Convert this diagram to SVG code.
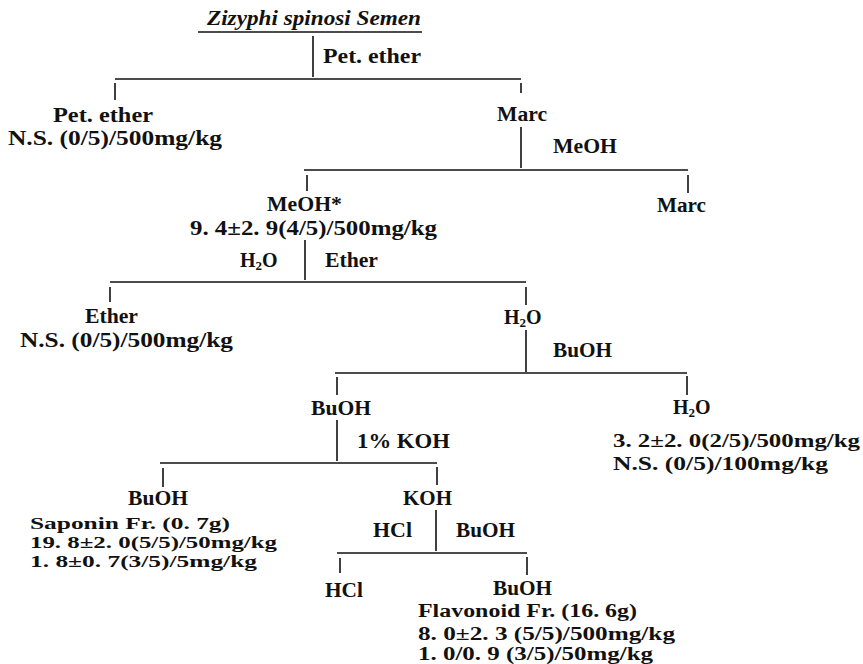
<svg xmlns="http://www.w3.org/2000/svg" width="863" height="664" viewBox="0 0 863 664">
<style>
text{font-family:"Liberation Serif","Times New Roman",serif;font-weight:bold;font-size:20px;fill:#111}
.it{font-style:italic}
.sub{font-size:13px}
.d19{font-size:19px}
.d18{font-size:18px}
.d17{font-size:17px}
line{stroke:#111;stroke-width:1.6}
</style>
<rect width="863" height="664" fill="#fff"/>
<g id="connectors">
<line x1="198" y1="32" x2="422" y2="32"/>
<line x1="313" y1="36" x2="313" y2="77"/>
<line x1="115" y1="79" x2="521" y2="79"/>
<line x1="115" y1="83" x2="115" y2="100"/>
<line x1="521" y1="83" x2="521" y2="93"/>
<line x1="521" y1="127" x2="521" y2="168"/>
<line x1="304" y1="170" x2="688" y2="170"/>
<line x1="307" y1="175" x2="307" y2="191"/>
<line x1="688" y1="175" x2="688" y2="193"/>
<line x1="305" y1="240" x2="305" y2="280"/>
<line x1="110" y1="282" x2="526" y2="282"/>
<line x1="110" y1="287" x2="110" y2="302"/>
<line x1="526" y1="287" x2="526" y2="305"/>
<line x1="526" y1="330" x2="526" y2="372"/>
<line x1="335" y1="373" x2="687" y2="373"/>
<line x1="337" y1="377" x2="337" y2="395"/>
<line x1="687" y1="376" x2="687" y2="395"/>
<line x1="337" y1="420" x2="337" y2="461"/>
<line x1="160" y1="463" x2="437" y2="463"/>
<line x1="163" y1="468" x2="163" y2="487"/>
<line x1="437" y1="467" x2="437" y2="485"/>
<line x1="436" y1="510" x2="436" y2="551"/>
<line x1="337" y1="553" x2="527" y2="553"/>
<line x1="340" y1="558" x2="340" y2="573"/>
<line x1="527" y1="557" x2="527" y2="575"/>
</g>
<g id="labels">
<text x="323" y="63" textLength="98" lengthAdjust="spacingAndGlyphs">Pet. ether</text>
<text x="553" y="153" textLength="64" lengthAdjust="spacingAndGlyphs">MeOH</text>
<text x="240" y="267">H<tspan class="sub" dy="3">2</tspan><tspan dy="-3">O</tspan></text>
<text x="325" y="267" textLength="53" lengthAdjust="spacingAndGlyphs">Ether</text>
<text x="553" y="357" textLength="59" lengthAdjust="spacingAndGlyphs">BuOH</text>
<text x="357" y="448" textLength="93" lengthAdjust="spacingAndGlyphs">1% KOH</text>
<text x="373" y="537" textLength="39" lengthAdjust="spacingAndGlyphs">HCl</text>
<text x="456" y="537" textLength="59" lengthAdjust="spacingAndGlyphs">BuOH</text>
</g>
<g id="n-source">
<text class="it" x="207" y="25" textLength="214" lengthAdjust="spacingAndGlyphs">Zizyphi spinosi Semen</text>
</g>
<g id="n-petether">
<text x="53" y="122" textLength="100" lengthAdjust="spacingAndGlyphs">Pet. ether</text>
<text x="8" y="145" textLength="214" lengthAdjust="spacingAndGlyphs">N.S. (0/5)/500mg/kg</text>
</g>
<g id="n-marc1">
<text x="497" y="121" textLength="50" lengthAdjust="spacingAndGlyphs">Marc</text>
</g>
<g id="n-marc2">
<text x="657" y="212" textLength="49" lengthAdjust="spacingAndGlyphs">Marc</text>
</g>
<g id="n-meoh">
<text x="267" y="211" textLength="75" lengthAdjust="spacingAndGlyphs">MeOH*</text>
<text x="190" y="235" textLength="247" lengthAdjust="spacingAndGlyphs">9. 4±2. 9(4/5)/500mg/kg</text>
</g>
<g id="n-ether">
<text x="85" y="323" textLength="53" lengthAdjust="spacingAndGlyphs">Ether</text>
<text x="20" y="347" textLength="213" lengthAdjust="spacingAndGlyphs">N.S. (0/5)/500mg/kg</text>
</g>
<g id="n-h2o1">
<text x="504" y="324">H<tspan class="sub" dy="3">2</tspan><tspan dy="-3">O</tspan></text>
</g>
<g id="n-buoh1">
<text x="311" y="415" textLength="60" lengthAdjust="spacingAndGlyphs">BuOH</text>
</g>
<g id="n-h2o2">
<text x="673" y="414">H<tspan class="sub" dy="3">2</tspan><tspan dy="-3">O</tspan></text>
<text class="d19" x="613" y="447" textLength="247" lengthAdjust="spacingAndGlyphs">3. 2±2. 0(2/5)/500mg/kg</text>
<text class="d19" x="613" y="470" textLength="215" lengthAdjust="spacingAndGlyphs">N.S. (0/5)/100mg/kg</text>
</g>
<g id="n-buoh2">
<text x="128" y="505" textLength="60" lengthAdjust="spacingAndGlyphs">BuOH</text>
<text class="d17" x="30" y="529" textLength="200" lengthAdjust="spacingAndGlyphs">Saponin Fr. (0. 7g)</text>
<text class="d17" x="30" y="548" textLength="247" lengthAdjust="spacingAndGlyphs">19. 8±2. 0(5/5)/50mg/kg</text>
<text class="d17" x="30" y="567" textLength="227" lengthAdjust="spacingAndGlyphs">1. 8±0. 7(3/5)/5mg/kg</text>
</g>
<g id="n-koh">
<text x="403" y="505" textLength="49" lengthAdjust="spacingAndGlyphs">KOH</text>
</g>
<g id="n-hcl">
<text x="325" y="597" textLength="38" lengthAdjust="spacingAndGlyphs">HCl</text>
</g>
<g id="n-buoh3">
<text x="493" y="595" textLength="59" lengthAdjust="spacingAndGlyphs">BuOH</text>
<text class="d18" x="418" y="617" textLength="219" lengthAdjust="spacingAndGlyphs">Flavonoid Fr. (16. 6g)</text>
<text class="d18" x="418" y="640" textLength="257" lengthAdjust="spacingAndGlyphs">8. 0±2. 3 (5/5)/500mg/kg</text>
<text class="d18" x="418" y="660" textLength="235" lengthAdjust="spacingAndGlyphs">1. 0/0. 9 (3/5)/50mg/kg</text>
</g>
</svg>
